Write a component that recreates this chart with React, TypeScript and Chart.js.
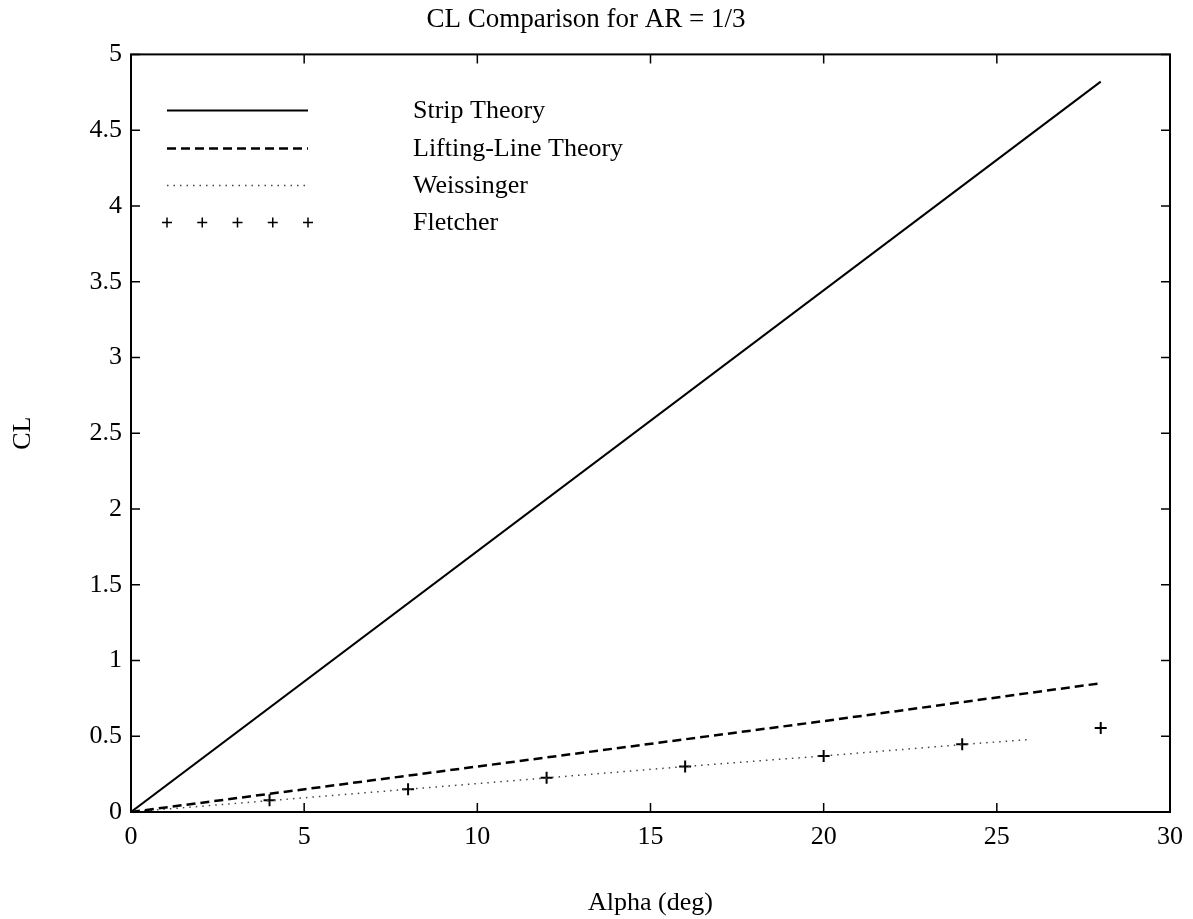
import React, { useEffect, useRef } from "react";
import { Chart, registerables } from "chart.js";

Chart.register(...registerables);

const chartTitle = "CL Comparison for AR = 1/3";
const xAxisTitle = "Alpha (deg)";
const yAxisTitle = "CL";

const xTicks = [0, 5, 10, 15, 20, 25, 30];
const yTicks = [0, 0.5, 1, 1.5, 2, 2.5, 3, 3.5, 4, 4.5, 5];

const seriesNames = ["Strip Theory", "Lifting-Line Theory", "Weissinger", "Fletcher"];

const stripAlpha = [0, 28];
const stripCL = [0, 4.82];

const liftingAlpha = [0, 10, 20, 28];
const liftingCL = [0, 0.3, 0.6, 0.85];

const weissingerAlpha = [0, 4, 8, 12, 16, 20, 24, 26];
const weissingerCL = [0, 0.075, 0.15, 0.225, 0.3, 0.37, 0.445, 0.48];

const fletcherAlpha = [4, 8, 12, 16, 20, 24, 28];
const fletcherCL = [0.077, 0.15, 0.226, 0.3, 0.369, 0.447, 0.555];

const FONT = "'Liberation Serif', 'DejaVu Serif', serif";

const toPoints = (xs: number[], ys: number[]) => xs.map((x, i) => ({ x, y: ys[i] }));

const framePlugin = {
  id: "frameAndLegend",
  afterDraw(chart: any) {
    const ctx = chart.ctx;
    const { left, right, top, bottom } = chart.chartArea;
    const xs = chart.scales.x;
    const ys = chart.scales.y;
    ctx.save();
    ctx.strokeStyle = "#000";
    ctx.lineWidth = 2;
    ctx.strokeRect(left, top, right - left, bottom - top);
    ctx.lineWidth = 1.5;
    const tl = 9;
    xTicks.forEach((v) => {
      const px = xs.getPixelForValue(v);
      ctx.beginPath();
      ctx.moveTo(px, bottom);
      ctx.lineTo(px, bottom - tl);
      ctx.moveTo(px, top);
      ctx.lineTo(px, top + tl);
      ctx.stroke();
    });
    yTicks.forEach((v) => {
      const py = ys.getPixelForValue(v);
      ctx.beginPath();
      ctx.moveTo(left, py);
      ctx.lineTo(left + tl, py);
      ctx.moveTo(right, py);
      ctx.lineTo(right - tl, py);
      ctx.stroke();
    });

    // legend
    const x0 = left + 36;
    const x1 = left + 177;
    const tx = left + 282;
    const rows = [top + 56, top + 94, top + 131, top + 168];
    ctx.font = `26px ${FONT}`;
    ctx.fillStyle = "#000";
    ctx.textBaseline = "middle";
    ctx.textAlign = "left";
    rows.forEach((ry, i) => {
      const ds = chart.data.datasets[i];
      ctx.beginPath();
      if (i < 3) {
        ctx.strokeStyle = ds.borderColor;
        ctx.lineWidth = ds.borderWidth;
        ctx.setLineDash(ds.borderDash || []);
        ctx.moveTo(x0, ry);
        ctx.lineTo(x1, ry);
        ctx.stroke();
        ctx.setLineDash([]);
      } else {
        ctx.strokeStyle = "#000";
        ctx.lineWidth = 1.5;
        for (let k = 0; k < 5; k++) {
          const cx = x0 + ((x1 - x0) * k) / 4;
          ctx.moveTo(cx - 5, ry);
          ctx.lineTo(cx + 5, ry);
          ctx.moveTo(cx, ry - 5);
          ctx.lineTo(cx, ry + 5);
        }
        ctx.stroke();
      }
      ctx.fillText(seriesNames[i], tx, ry + 1);
    });
    ctx.restore();
  },
};

export default function App() {
  const ref = useRef<HTMLCanvasElement>(null);
  useEffect(() => {
    if (!ref.current) return;
    const chart = new Chart(ref.current, {
      type: "scatter",
      data: {
        datasets: [
          {
            label: seriesNames[0],
            data: toPoints(stripAlpha, stripCL),
            showLine: true,
            borderColor: "#000",
            borderWidth: 2,
            pointRadius: 0,
          },
          {
            label: seriesNames[1],
            data: toPoints(liftingAlpha, liftingCL),
            showLine: true,
            borderColor: "#000",
            borderWidth: 2.5,
            borderDash: [9, 5],
            pointRadius: 0,
          },
          {
            label: seriesNames[2],
            data: toPoints(weissingerAlpha, weissingerCL),
            showLine: true,
            borderColor: "#444",
            borderWidth: 1.5,
            borderDash: [1.5, 5],
            pointRadius: 0,
          },
          {
            label: seriesNames[3],
            data: toPoints(fletcherAlpha, fletcherCL),
            showLine: false,
            borderColor: "#000",
            backgroundColor: "#000",
            borderWidth: 2,
            pointStyle: "cross",
            pointRadius: 6,
          },
        ] as any,
      },
      options: {
        responsive: false,
        animation: false,
        devicePixelRatio: 1,
        layout: { padding: { top: 0, left: 0, right: 21, bottom: 0 } },
        plugins: {
          legend: { display: false },
          tooltip: { enabled: false },
          title: {
            display: true,
            text: chartTitle,
            color: "#000",
            font: { family: FONT, size: 27, weight: "normal" as any, lineHeight: 1.2 },
            padding: { top: 4, bottom: 18 },
          },
        },
        scales: {
          x: {
            type: "linear",
            min: 0,
            max: 30,
            afterBuildTicks: (s: any) => {
              s.ticks = xTicks.map((v) => ({ value: v }));
            },
            afterFit: (s: any) => {
              s.height = 107;
            },
            grid: { display: false, drawTicks: false },
            border: { display: false },
            ticks: {
              color: "#000",
              padding: 10,
              font: { family: FONT, size: 26 },
              callback: (v: any) => String(v),
            },
            title: {
              display: true,
              text: xAxisTitle,
              color: "#000",
              font: { family: FONT, size: 26, lineHeight: 1.2 },
              padding: { top: 0, bottom: 0 },
            },
          },
          y: {
            type: "linear",
            min: 0,
            max: 5,
            afterBuildTicks: (s: any) => {
              s.ticks = yTicks.map((v) => ({ value: v }));
            },
            afterFit: (s: any) => {
              s.width = 131;
            },
            grid: { display: false, drawTicks: false },
            border: { display: false },
            ticks: {
              color: "#000",
              padding: 9,
              font: { family: FONT, size: 26 },
              callback: (v: any) => String(v),
            },
            title: {
              display: true,
              text: yAxisTitle,
              color: "#000",
              font: { family: FONT, size: 26, lineHeight: 1.2 },
              padding: { top: 8, bottom: 0 },
            },
          },
        },
      },
      plugins: [framePlugin],
    });
    return () => chart.destroy();
  }, []);
  return (
    <canvas
      ref={ref}
      width={1193}
      height={919}
      style={{ position: "absolute", left: 0, top: 0, display: "block", background: "#fff" }}
    />
  );
}
